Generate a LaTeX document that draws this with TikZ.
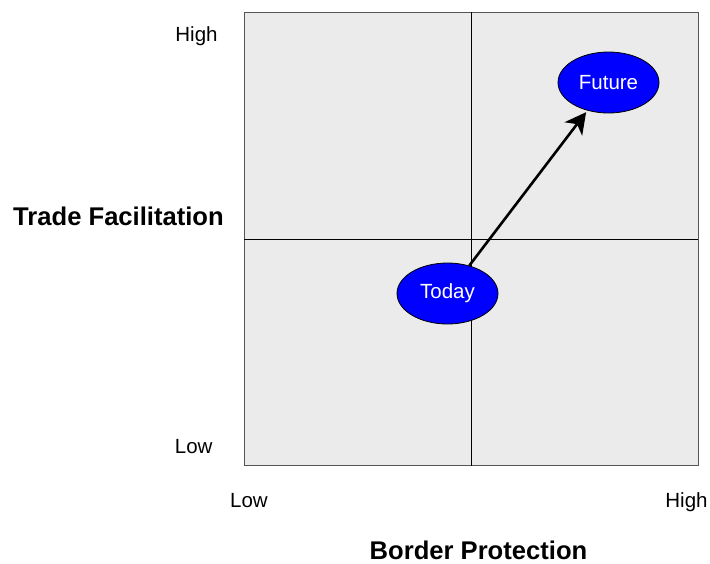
\documentclass[tikz,border=0pt]{standalone}
\usepackage{fontspec}
\setmainfont{Liberation Sans}
\usetikzlibrary{arrows.meta,shapes.geometric}
\definecolor{panel}{HTML}{EBEBEB}
\definecolor{frame}{HTML}{555555}
\tikzset{
  lbl/.style={font=\fontsize{20.5}{24}\selectfont, anchor=base, inner sep=0pt},
  axis/.style={font=\fontsize{25.6}{30}\selectfont\bfseries, anchor=base, inner sep=0pt},
  state/.style={ellipse, draw=black, line width=0.8pt, fill=blue, text=white,
    minimum width=101pt, minimum height=61pt, inner sep=0pt,
    font=\fontsize{20.5}{24}\selectfont},
  move/.style={line width=2.6pt, -{Stealth[length=21pt,width=22pt,inset=6pt]}},
}
\begin{document}
\begin{tikzpicture}[x=1pt,y=-1pt]
\useasboundingbox (0,0) rectangle (710,563);
\fill[white] (0,0) rectangle (710,563);
\draw[frame, fill=panel, line width=1pt] (244,12.3) rectangle (698.3,465.7);
\draw[black, line width=0.9pt] (471.3,12.3) -- (471.3,465.7);
\draw[black, line width=0.9pt] (244,239) -- (698.3,239);
\node[state] (future) at (608.5,82.5) {Future};
\node[state] (today) at (447.5,293.5) {Today};
\draw[move, shorten >=2pt] (today.52) -- (future.233);
\node[lbl] (hy) at (196.5,41.7) {High};
\node[lbl] (ly) at (193.7,453.3) {Low};
\node[lbl] (lx) at (249,507) {Low};
\node[lbl] (hx) at (686.5,507) {High};
\node[axis] (tf) at (118.5,225) {Trade Facilitation};
\node[axis] (bp) at (478.5,559) {Border Protection};
\end{tikzpicture}
\end{document}
